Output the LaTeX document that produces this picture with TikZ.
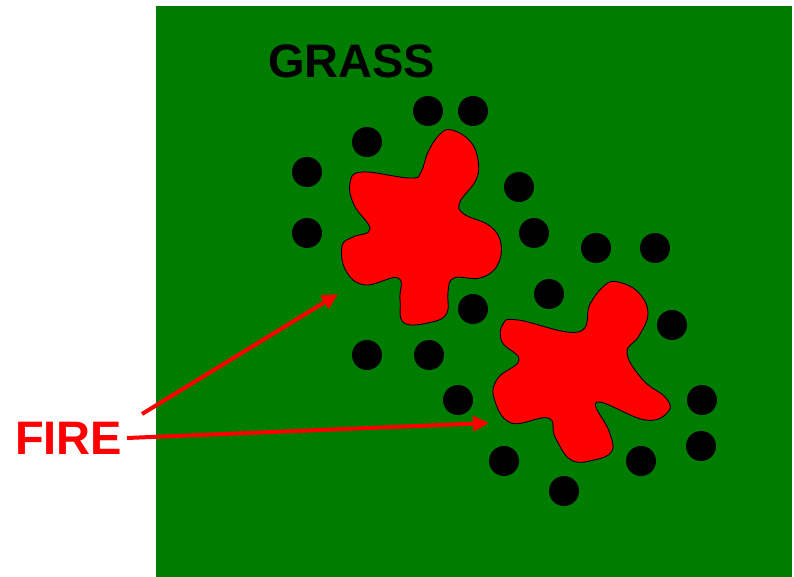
\documentclass[tikz,border=0pt]{standalone}
\usepackage{fontspec}
\setmainfont{Liberation Sans}
\usetikzlibrary{arrows.meta}
\definecolor{grassgreen}{RGB}{0,125,0}
\definecolor{firered}{RGB}{255,0,0}
\begin{document}
\begin{tikzpicture}[x=1pt,y=-1pt,
  dot/.style={circle,fill=black,minimum size=30pt,inner sep=0pt},
  blob/.style={fill=firered,draw=black,line width=0.9pt},
  pointer/.style={draw=firered,line width=4pt,-{Triangle[length=16pt,width=15pt]}},
  label/.style={font=\bfseries\fontsize{47}{47}\selectfont,inner sep=0pt,anchor=base west}]
\useasboundingbox (0,0) rectangle (794,577);
\fill[grassgreen] (156,6) rectangle (792,577);
% dots
\foreach \p [count=\i] in {(428,111),(473,111),(367,142),(307,172),(519,187),(307,233),(534,233),(596,248),(655,248),(549,294),(473,309),(672,325),(367,355),(429,355),(458,400),(702,400),(701,446),(504,461),(641,461),(564,491)}
  \node[dot] (d\i) at \p {};
% fire 1
\draw[blob] plot[smooth cycle,tension=0.7] coordinates {
 (452,130) (470,141) (478,160) (476,180) (460,202) (464,214) (490,226) (501,244)
 (497,266) (480,278) (454,278) (448,292) (447,313) (432,322) (404,323) (400,300)
 (398,278) (365,285) (346,271) (342,246) (353,237) (370,229) (354,205) (350,183)
 (362,172) (410,178) (421,172) (428,152) (440,134)};
% fire 2
\draw[blob] plot[smooth cycle,tension=0.7] coordinates {
 (618,282) (638,292) (648,313) (639,336) (627,353) (643,380) (666,398) (668,412)
 (645,420) (597,402) (609,431) (612,451) (594,460) (571,460) (555,437) (548,418)
 (511,423) (494,398) (498,378) (519,360) (502,342) (503,324) (518,320) (578,332)
 (590,304) (605,285)};
% labels
\node[label] (grass) at (268,78) {GRASS};
\node[label,text=firered] (fire) at (15,454) {FIRE};
\coordinate (a1s) at (142,414);
\coordinate (a1e) at (338,294);
\coordinate (a2s) at (127,438);
\coordinate (a2e) at (489,423);
\draw[pointer] (a1s) -- (a1e);
\draw[pointer] (a2s) -- (a2e);
\end{tikzpicture}
\end{document}
